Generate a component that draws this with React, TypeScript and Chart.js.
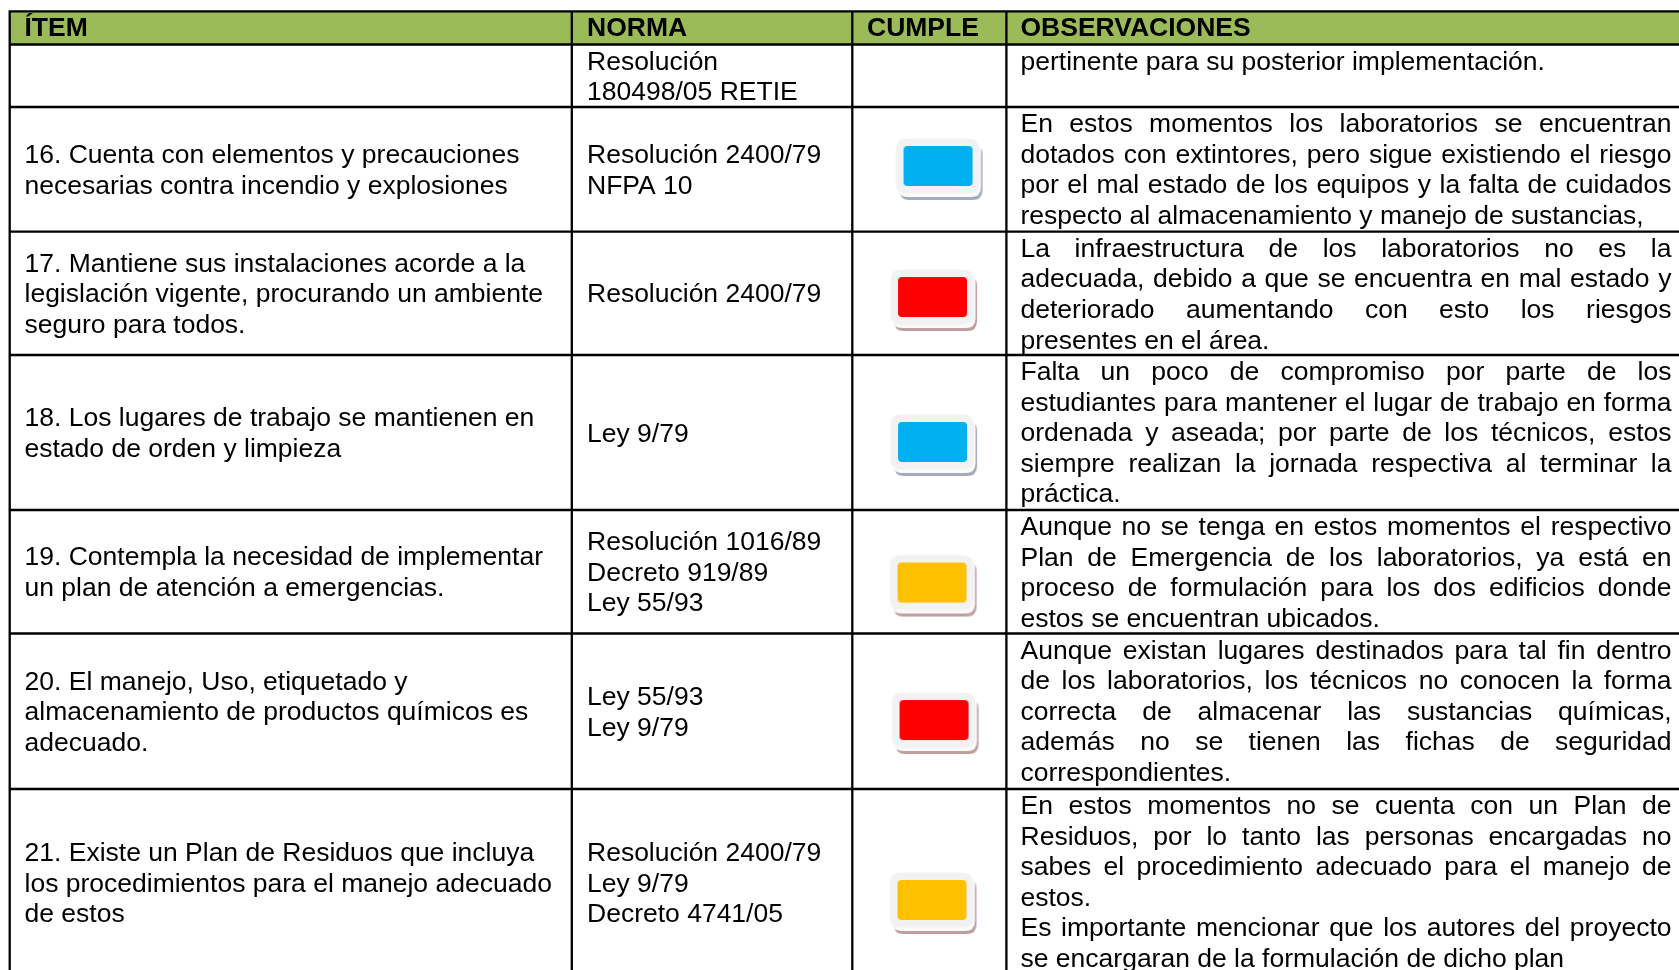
import React, { useEffect, useRef } from 'react';
import { Chart, registerables } from 'chart.js';

Chart.register(...registerables);

// ---------- data ----------
const headers = ['ÍTEM', 'NORMA', 'CUMPLE', 'OBSERVACIONES'];

const itemLines: string[][] = [
  [],
  ['16. Cuenta con elementos y precauciones', 'necesarias contra incendio y explosiones'],
  ['17. Mantiene sus instalaciones acorde a la', 'legislación vigente, procurando un ambiente', 'seguro para todos.'],
  ['18. Los lugares de trabajo se mantienen en', 'estado de orden y limpieza'],
  ['19. Contempla la necesidad de implementar', 'un plan de atención a emergencias.'],
  ['20. El manejo, Uso, etiquetado y', 'almacenamiento de productos químicos es', 'adecuado.'],
  ['21. Existe un Plan de Residuos que incluya', 'los procedimientos para el manejo adecuado', 'de estos'],
];

const normaLines: string[][] = [
  ['Resolución', '180498/05 RETIE'],
  ['Resolución 2400/79', 'NFPA 10'],
  ['Resolución 2400/79'],
  ['Ley 9/79'],
  ['Resolución 1016/89', 'Decreto 919/89', 'Ley 55/93'],
  ['Ley 55/93', 'Ley 9/79'],
  ['Resolución 2400/79', 'Ley 9/79', 'Decreto 4741/05'],
];

// estado de cumplimiento: '' = sin marca
const cumple: string[] = ['', 'si', 'no', 'si', 'parcial', 'no', 'parcial'];

// paragraphs -> lines (last line of each paragraph is not justified)
const observaciones: string[][][] = [
  [['pertinente para su posterior implementación.']],
  [[
    'En estos momentos los laboratorios se encuentran',
    'dotados con extintores, pero sigue existiendo el riesgo',
    'por el mal estado de los equipos y la falta de cuidados',
    'respecto al almacenamiento y manejo de sustancias,',
  ]],
  [[
    'La infraestructura de los laboratorios no es la',
    'adecuada, debido a que se encuentra en mal estado y',
    'deteriorado aumentando con esto los riesgos',
    'presentes en el área.',
  ]],
  [[
    'Falta un poco de compromiso por parte de los',
    'estudiantes para mantener el lugar de trabajo en forma',
    'ordenada y aseada; por parte de los técnicos, estos',
    'siempre realizan la jornada respectiva al terminar la',
    'práctica.',
  ]],
  [[
    'Aunque no se tenga en estos momentos el respectivo',
    'Plan de Emergencia de los laboratorios, ya está en',
    'proceso de formulación para los dos edificios donde',
    'estos se encuentran ubicados.',
  ]],
  [[
    'Aunque existan lugares destinados para tal fin dentro',
    'de los laboratorios, los técnicos no conocen la forma',
    'correcta de almacenar las sustancias químicas,',
    'además no se tienen las fichas de seguridad',
    'correspondientes.',
  ]],
  [
    [
      'En estos momentos no se cuenta con un Plan de',
      'Residuos, por lo tanto las personas encargadas no',
      'sabes el procedimiento adecuado para el manejo de',
      'estos.',
    ],
    [
      'Es importante mencionar que los autores del proyecto',
      'se encargaran de la formulación de dicho plan',
    ],
  ],
];

// ---------- layout / style ----------
const W = 1679;
const H = 970;
const colEdges = [9.7, 571.8, 852.3, 1006.4, 1720];
const rowEdges = [11.3, 44.5, 107, 231.7, 355, 510, 633.5, 789, 976];
const textX = [24.5, 587, 867, 1020.5];
const obsRight = 1671.5;
const LINE_H = 30.6;
const badgeNudgeX = [0, 8.2, 2.7, 2.7, 2.2, 4.2, 2.1];
const badgeNudgeY = [0, -3.4, 3.7, 9.5, 10.8, 8.8, 17.5];
const FONT = '26.5px "Liberation Sans", Arial, sans-serif';
const FONT_BOLD = 'bold 26.5px "Liberation Sans", Arial, sans-serif';
const HEADER_BG = '#9BBB59';
const statusColors: Record<string, [string, string]> = {
  si: ['#00B0F0', '#A2ACBC'],
  no: ['#FF0000', '#BF9E9E'],
  parcial: ['#FFC000', '#BF9E9E'],
};

function rrPath(g: CanvasRenderingContext2D, x: number, y: number, w: number, h: number, r: number) {
  g.beginPath();
  g.moveTo(x + r, y);
  g.lineTo(x + w - r, y);
  g.quadraticCurveTo(x + w, y, x + w, y + r);
  g.lineTo(x + w, y + h - r);
  g.quadraticCurveTo(x + w, y + h, x + w - r, y + h);
  g.lineTo(x + r, y + h);
  g.quadraticCurveTo(x, y + h, x, y + h - r);
  g.lineTo(x, y + r);
  g.quadraticCurveTo(x, y, x + r, y);
  g.closePath();
}

function makeBadge(fill: string, shadow: string): HTMLCanvasElement {
  const c = document.createElement('canvas');
  c.width = 94;
  c.height = 70;
  const g = c.getContext('2d')!;
  rrPath(g, 9, 14, 83, 55, 10);
  g.fillStyle = shadow;
  g.fill();
  rrPath(g, 7.5, 11, 83, 55, 10);
  g.fillStyle = '#FAFAFA';
  g.fill();
  rrPath(g, 5.5, 7.5, 83, 55, 10);
  g.fillStyle = '#F2F2F2';
  g.fill();
  rrPath(g, 13, 15, 69, 40, 4);
  g.fillStyle = fill;
  g.fill();
  return c;
}

function drawJustified(ctx: CanvasRenderingContext2D, line: string, x0: number, x1: number, yb: number) {
  const words = line.split(' ');
  const widths = words.map((w) => ctx.measureText(w).width);
  const total = widths.reduce((a, b) => a + b, 0);
  const gap = words.length > 1 ? (x1 - x0 - total) / (words.length - 1) : 0;
  let x = x0;
  words.forEach((w, i) => {
    ctx.fillText(w, x, yb);
    x += widths[i] + gap;
  });
}

const tablePlugin = {
  id: 'tabla',
  beforeDatasetsDraw(chart: any) {
    const { ctx } = chart;
    const xs = chart.scales.x;
    const ys = chart.scales.y;
    const px = (v: number) => xs.getPixelForValue(v);
    const py = (v: number) => ys.getPixelForValue(v);
    ctx.save();
    ctx.fillStyle = '#FFFFFF';
    ctx.fillRect(0, 0, chart.width, chart.height);

    // header
    ctx.fillStyle = HEADER_BG;
    ctx.fillRect(px(colEdges[0]), py(rowEdges[0]), px(colEdges[4]) - px(colEdges[0]), py(rowEdges[1]) - py(rowEdges[0]));
    ctx.fillStyle = '#000000';
    ctx.textBaseline = 'alphabetic';
    ctx.textAlign = 'left';
    ctx.font = FONT_BOLD;
    headers.forEach((h, i) => ctx.fillText(h, px(textX[i]), py(rowEdges[1] - 8.5)));

    // body
    ctx.font = FONT;
    for (let r = 0; r < itemLines.length; r++) {
      const top = rowEdges[r + 1];
      const bottom = rowEdges[r + 2];
      const mid = (top + bottom) / 2;
      const placeLines = (lines: string[], x: number, topAligned: boolean) => {
        const n = lines.length;
        lines.forEach((ln, i) => {
          const yb = topAligned ? top + 25 + i * LINE_H : mid + 9 + (i - (n - 1) / 2) * LINE_H;
          ctx.fillText(ln, px(x), py(yb));
        });
      };
      placeLines(itemLines[r], textX[0], r === 0);
      placeLines(normaLines[r], textX[1], r === 0);
      let li = 0;
      observaciones[r].forEach((para) => {
        para.forEach((ln, j) => {
          const yb = py(top + 25 + li * LINE_H);
          if (j < para.length - 1) drawJustified(ctx, ln, px(textX[3]), px(obsRight), yb);
          else ctx.fillText(ln, px(textX[3]), yb);
          li++;
        });
      });
    }

    // grid
    ctx.strokeStyle = '#000000';
    ctx.lineWidth = 2.3;
    ctx.beginPath();
    rowEdges.forEach((ry) => {
      ctx.moveTo(px(colEdges[0]) - 1.15, py(ry));
      ctx.lineTo(px(colEdges[4]), py(ry));
    });
    colEdges.slice(0, 4).forEach((cx) => {
      ctx.moveTo(px(cx), py(rowEdges[0]));
      ctx.lineTo(px(cx), py(rowEdges[rowEdges.length - 1]));
    });
    ctx.stroke();
    ctx.restore();
  },
};

export default function App() {
  const ref = useRef<HTMLCanvasElement | null>(null);
  useEffect(() => {
    document.body.style.margin = '0';
    const canvas = ref.current!;
    const badges: Record<string, HTMLCanvasElement> = {};
    Object.keys(statusColors).forEach((k) => {
      badges[k] = makeBadge(statusColors[k][0], statusColors[k][1]);
    });
    const points: { x: number; y: number }[] = [];
    const styles: HTMLCanvasElement[] = [];
    cumple.forEach((s, r) => {
      if (!s) return;
      points.push({
        x: (colEdges[2] + colEdges[3]) / 2 + badgeNudgeX[r],
        y: (rowEdges[r + 1] + rowEdges[r + 2]) / 2 + badgeNudgeY[r],
      });
      styles.push(badges[s]);
    });
    const chart = new Chart(canvas, {
      type: 'scatter',
      data: {
        datasets: [
          {
            data: points,
            pointStyle: styles as any,
            pointRadius: 30,
            pointHoverRadius: 30,
            clip: false as any,
          },
        ],
      },
      options: {
        responsive: false,
        animation: false,
        events: [],
        layout: { padding: 0, autoPadding: false },
        plugins: { legend: { display: false }, tooltip: { enabled: false } },
        scales: {
          x: { type: 'linear', min: 0, max: W, display: false },
          y: { type: 'linear', min: 0, max: H, reverse: true, display: false },
        },
      },
      plugins: [tablePlugin],
    });
    return () => chart.destroy();
  }, []);
  return (
    <div style={{ position: 'absolute', left: 0, top: 0, width: W, height: H }}>
      <canvas ref={ref} width={W} height={H} style={{ display: 'block', width: W, height: H }} />
    </div>
  );
}
